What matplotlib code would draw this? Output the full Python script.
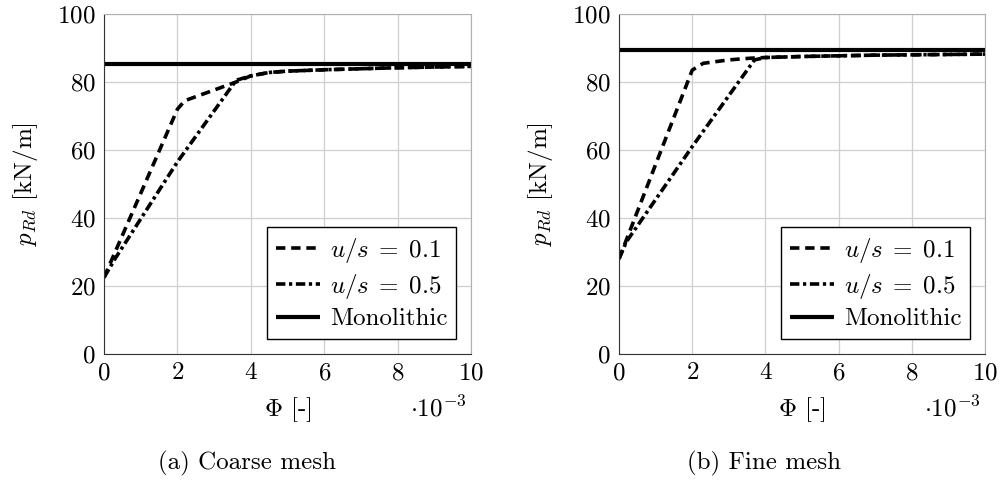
import matplotlib
matplotlib.use('Agg')
import matplotlib.pyplot as plt

plt.rcParams['font.family'] = 'serif'
plt.rcParams['font.serif'] = ['cmr10']
plt.rcParams['mathtext.fontset'] = 'cm'
plt.rcParams['axes.formatter.use_mathtext'] = True

# --- data (Phi in 1e-3, p_Rd in kN/m) ---
coarse_x01 = [0, 2.0, 2.2, 3.6, 4.0, 4.5, 5, 6, 7, 8, 9, 10]
coarse_y01 = [22.5, 72.0, 74.5, 80.0, 81.8, 82.8, 83.2, 83.6, 83.9, 84.2, 84.4, 84.6]
coarse_x05 = [0, 0.3, 2.0, 3.6, 4.0, 4.5, 5, 6, 7, 8, 9, 10]
coarse_y05 = [22.5, 28.0, 56.5, 80.5, 81.8, 82.8, 83.2, 83.6, 83.9, 84.2, 84.4, 84.6]
coarse_mono = 85.3

fine_x01 = [0, 2.0, 2.3, 3.0, 3.6, 4.0, 5, 6, 7, 8, 9, 10]
fine_y01 = [28.0, 83.5, 85.5, 86.5, 87.0, 87.2, 87.5, 87.7, 87.9, 88.0, 88.1, 88.2]
fine_x05 = [0, 0.2, 2.0, 3.7, 4.0, 5, 6, 7, 8, 9, 10]
fine_y05 = [28.0, 33.0, 61.0, 86.5, 87.2, 87.5, 87.7, 87.9, 88.0, 88.1, 88.2]
fine_mono = 89.4

captions = ['(a) Coarse mesh', '(b) Fine mesh']
FS = 18
LW = 2.6

fig = plt.figure(figsize=(10.02, 4.86), dpi=100)
a1 = fig.add_axes([0.1038, 0.2716, 0.3663, 0.6996])
a2 = fig.add_axes([0.6178, 0.2716, 0.3653, 0.6996])

panels = [
    (a1, coarse_x01, coarse_y01, coarse_x05, coarse_y05, coarse_mono),
    (a2, fine_x01, fine_y01, fine_x05, fine_y05, fine_mono),
]
for ax, x1, y1, x5, y5, mono in panels:
    ax.plot(x1, y1, color='k', lw=LW, dashes=(2.6, 1.6), label=r'$u/s \;=\; 0.1$')
    ax.plot(x5, y5, color='k', lw=LW, dashes=(2.6, 1.0, 0.9, 1.0), label=r'$u/s \;=\; 0.5$')
    ax.plot([0, 10], [mono, mono], color='k', lw=LW + 0.4, solid_capstyle='butt',
            label='Monolithic')
    ax.set_xlim(0, 10); ax.set_ylim(0, 100)
    ax.set_xticks(range(0, 11, 2)); ax.set_yticks(range(0, 101, 20))
    ax.grid(True, color='#cfcfcf', lw=0.9)
    ax.set_axisbelow(True)
    for s in ('top', 'right'):
        ax.spines[s].set_color('#b0b0b0')
    for s in ('left', 'bottom'):
        ax.spines[s].set_color('#333333')
    ax.tick_params(length=0, labelsize=FS, pad=6)
    ax.text(0.5, -0.165, r'$\Phi$ [-]', transform=ax.transAxes, ha='center', va='center', fontsize=FS)
    ax.text(0.91, -0.16, r'$\cdot 10^{-3}$', transform=ax.transAxes, ha='center', va='center', fontsize=FS)
    ax.text(-0.215, 0.5, r'$p_{Rd}$ [kN/m]', transform=ax.transAxes, ha='center', va='center',
            rotation=90, fontsize=FS)
    leg = ax.legend(loc='lower right', fontsize=FS, frameon=True, fancybox=False,
                    edgecolor='k', framealpha=1, handlelength=1.75, handletextpad=0.4,
                    labelspacing=0.28, borderpad=0.35, borderaxespad=0.6)
    leg.get_frame().set_linewidth(1.0)

fig.text(0.2465, 0.047, captions[0], ha='center', va='center', fontsize=FS)
fig.text(0.7625, 0.047, captions[1], ha='center', va='center', fontsize=FS)

fig.savefig('out.png', dpi=100)
